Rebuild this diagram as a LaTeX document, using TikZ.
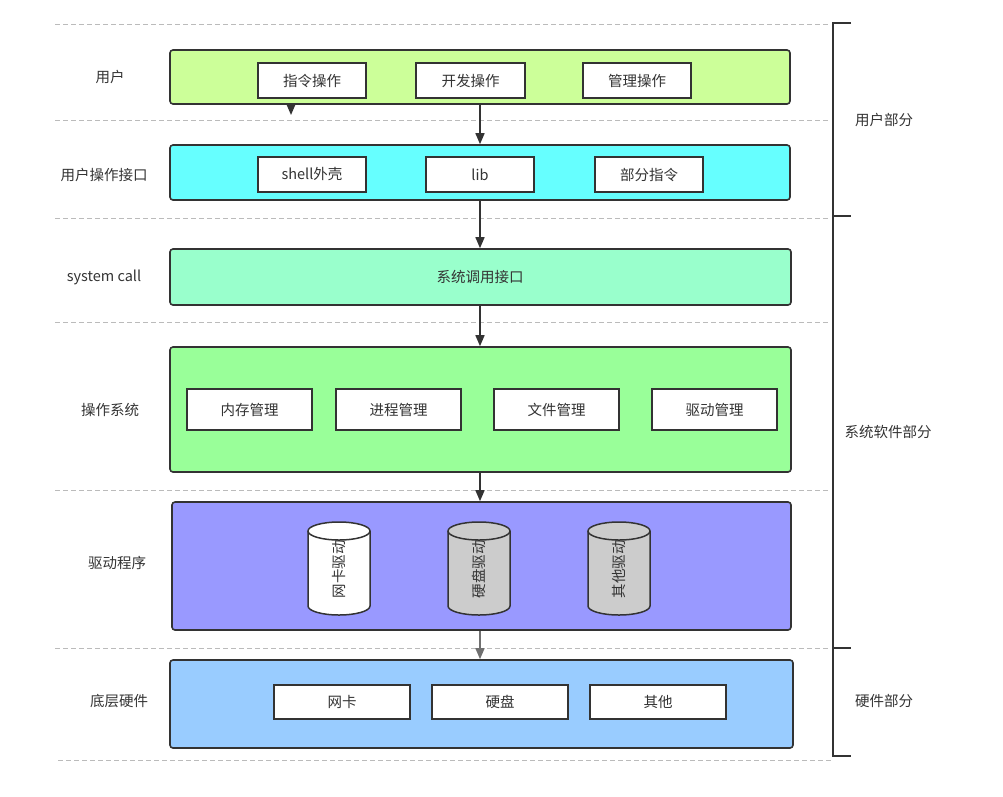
\documentclass[tikz,border=0pt]{standalone}
\usepackage{fontspec}
\setmainfont{Noto Sans CJK SC}
\usetikzlibrary{arrows.meta}
\definecolor{ink}{HTML}{333333}
\definecolor{cUser}{HTML}{CCFF99}
\definecolor{cIface}{HTML}{66FFFF}
\definecolor{cSys}{HTML}{99FFCC}
\definecolor{cOS}{HTML}{99FF99}
\definecolor{cDrv}{HTML}{9999FF}
\definecolor{cHw}{HTML}{99CCFF}
\definecolor{cCyl}{HTML}{CCCCCC}
\definecolor{cDash}{HTML}{BBBBBB}
\begin{document}
\begin{tikzpicture}[x=1pt,y=-1pt,
  font=\fontsize{14.5}{16}\selectfont, text=ink,
  band/.style={draw=ink, line width=1.6pt, rounded corners=3pt, inner sep=0pt},
  subbox/.style={draw=ink, line width=1.6pt, fill=white, inner sep=0pt, minimum height=35pt},
  osbox/.style={subbox, minimum width=125pt, minimum height=41pt},
  hwbox/.style={subbox, minimum width=136pt, minimum height=34pt},
  lbl/.style={inner sep=0pt},
  sep/.style={draw=cDash, line width=1pt, dash pattern=on 5pt off 3pt},
  arr/.style={draw=ink, line width=1.5pt, -{Triangle[length=11pt,width=9pt]}},
  brk/.style={draw=ink, line width=2pt},
  cyl/.style={draw=ink, line width=1.5pt}
]
\useasboundingbox (0,0) rectangle (1003,796);

% separators
\foreach \yy in {24,120,218,322,490,648} \draw[sep] (55,\yy) -- (828,\yy);
\draw[sep] (58,760) -- (832,760);

% bands
\node[band, fill=cUser, minimum width=620pt, minimum height=54pt] (u) at (480,77) {};
\node[band, fill=cIface, minimum width=620pt, minimum height=55pt] (i) at (480,172.5) {};
\node[band, fill=cSys, minimum width=621pt, minimum height=56pt] (s) at (480.5,277) {};
\node[band, fill=cOS, minimum width=621pt, minimum height=125pt] (o) at (480.5,409.5) {};
\node[band, fill=cDrv, minimum width=619pt, minimum height=128pt] (d) at (481.5,566) {};
\node[band, fill=cHw, minimum width=623pt, minimum height=88pt] (h) at (481.5,704) {};

% user ops
\node[subbox, minimum width=108pt] (u1) at (312,80.5) {指令操作};
\node[subbox, minimum width=109pt] (u2) at (470.5,80.5) {开发操作};
\node[subbox, minimum width=108pt] (u3) at (637,80.5) {管理操作};
% interface
\node[subbox, minimum width=108pt] (i1) at (312,174.5) {shell外壳};
\node[subbox, minimum width=108pt] (i2) at (480,174.5) {lib};
\node[subbox, minimum width=108pt] (i3) at (649,174.5) {部分指令};
% syscall
\node[lbl] (s1) at (480,277) {系统调用接口};
% os
\node[osbox] (o1) at (249.5,409.5) {内存管理};
\node[osbox] (o2) at (398.5,409.5) {进程管理};
\node[osbox] (o3) at (556.5,409.5) {文件管理};
\node[osbox] (o4) at (714.5,409.5) {驱动管理};
% hardware
\node[hwbox] (h1) at (342,702) {网卡};
\node[hwbox] (h2) at (500,702) {硬盘};
\node[hwbox] (h3) at (658,702) {其他};

% cylinders
\foreach \cx/\cf/\nm/\tx in {339/white/c1/网卡驱动, 479/cCyl/c2/硬盘驱动, 619/cCyl/c3/其他驱动}{
  \path[cyl, fill=\cf] (\cx-31,531) -- (\cx-31,606)
     arc[start angle=180, end angle=0, x radius=31, y radius=9]
     -- (\cx+31,531)
     arc[start angle=0, end angle=-180, x radius=31, y radius=9] -- cycle;
  \draw[cyl] (\cx-31,531) arc[start angle=180, end angle=0, x radius=31, y radius=9];
  \node[lbl, rotate=90] (\nm) at (\cx,569) {\tx};
}

% left labels
\node[lbl] (l1) at (110,77) {用户};
\node[lbl] (l2) at (104,175) {用户操作接口};
\node[lbl] (l3) at (104,277) {system call};
\node[lbl] (l4) at (110,410) {操作系统};
\node[lbl] (l5) at (117,563) {驱动程序};
\node[lbl] (l6) at (119,701) {底层硬件};

% right labels and bracket
\node[lbl] (r1) at (884,120) {用户部分};
\node[lbl] (r2) at (888,432) {系统软件部分};
\node[lbl] (r3) at (884,701) {硬件部分};
\draw[brk] (851,23) -- (833,23) -- (833,756) -- (851,756);
\draw[brk] (833,216) -- (851,216);
\draw[brk] (833,648) -- (851,648);

% arrows
\coordinate (stub) at (291,115);
\draw[arr] (u.south -| stub) -- (stub);
\draw[arr] (u.south) -- (i.north);
\draw[arr] (i.south) -- (i.south |- s.north);
\draw[arr] (i.south |- s.south) -- (i.south |- o.north);
\draw[arr] (i.south |- o.south) -- (i.south |- d.north);
\draw[arr, draw=ink!70] (i.south |- d.south) -- (i.south |- h.north);
\end{tikzpicture}
\end{document}
